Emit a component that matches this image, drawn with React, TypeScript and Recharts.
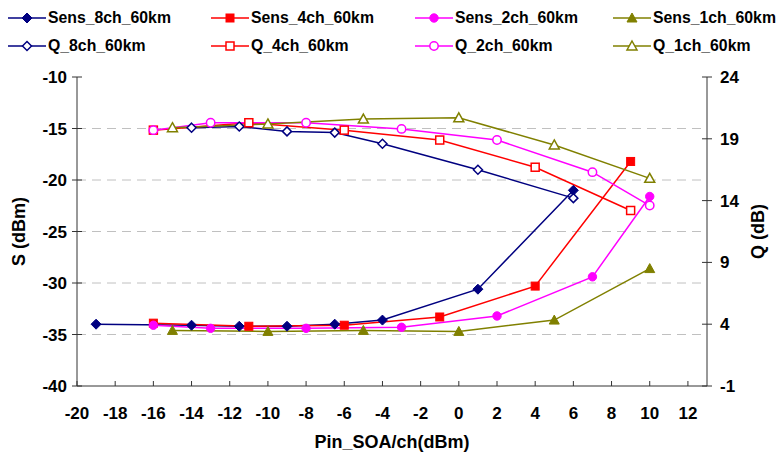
import React from 'react';
import { LineChart, Line, XAxis, YAxis, ReferenceLine } from 'recharts';

const sens8X = [-19, -14, -11.5, -9, -6.5, -4, 1, 6];
const sens8Y = [-34.0, -34.1, -34.2, -34.2, -34.0, -33.6, -30.6, -21.0];
const q8X = [-14, -11.5, -9, -6.5, -4, 1, 6];
const q8Y = [19.9, 20.0, 19.6, 19.5, 18.6, 16.5, 14.2];

const sens4X = [-16, -11, -6, -1, 4, 9];
const sens4Y = [-33.9, -34.2, -34.1, -33.3, -30.3, -18.2];
const q4X = [-16, -11, -6, -1, 4, 9];
const q4Y = [19.7, 20.3, 19.7, 18.9, 16.7, 13.2];

const sens2X = [-16, -13, -8, -3, 2, 7, 10];
const sens2Y = [-34.1, -34.4, -34.4, -34.3, -33.2, -29.4, -21.6];
const q2X = [-16, -13, -8, -3, 2, 7, 10];
const q2Y = [19.7, 20.3, 20.3, 19.8, 18.9, 16.3, 13.6];

const sens1X = [-15, -10, -5, 0, 5, 10];
const sens1Y = [-34.6, -34.7, -34.6, -34.7, -33.6, -28.6];
const q1X = [-15, -10, -5, 0, 5, 10];
const q1Y = [19.9, 20.2, 20.6, 20.7, 18.5, 15.8];

const xTicks = [-20, -18, -16, -14, -12, -10, -8, -6, -4, -2, 0, 2, 4, 6, 8, 10, 12];
const sTicks = [-40, -35, -30, -25, -20, -15, -10];
const qTicks = [-1, 4, 9, 14, 19, 24];
const gridValues = [-35, -30, -25, -20, -15];

const NAVY = '#000080';
const RED = '#FF0000';
const MAGENTA = '#FF00FF';
const OLIVE = '#808000';
const FONT = '"Liberation Sans", Arial, sans-serif';
const TICK_FS = 17;
const TITLE_FS = 18;
const LEGEND_FS = 15.8;

const zip = (xs: number[], ys: number[]) => xs.map((x, i) => ({ x, y: ys[i] }));

type Shape = 'diamond' | 'square' | 'circle' | 'triangle';

const marker = (shape: Shape, color: string, filled: boolean, cx: number, cy: number, key?: any) => {
  const fill = filled ? color : '#fff';
  const sw = filled ? 1 : 1.5;
  if (shape === 'diamond') {
    const h = filled ? 5 : 4.5;
    return <polygon key={key} points={`${cx},${cy - h} ${cx + h},${cy} ${cx},${cy + h} ${cx - h},${cy}`} fill={fill} stroke={color} strokeWidth={sw} />;
  }
  if (shape === 'square') {
    const h = 4;
    return <rect key={key} x={cx - h} y={cy - h} width={2 * h} height={2 * h} fill={fill} stroke={color} strokeWidth={sw} />;
  }
  if (shape === 'circle') {
    return <circle key={key} cx={cx} cy={cy} r={4.2} fill={fill} stroke={color} strokeWidth={sw} />;
  }
  return <polygon key={key} points={`${cx},${cy - 5} ${cx + 5},${cy + 4} ${cx - 5},${cy + 4}`} fill={fill} stroke={color} strokeWidth={sw} />;
};

const dotFn = (shape: Shape, color: string, filled: boolean) => (p: any) =>
  marker(shape, color, filled, p.cx, p.cy, p.index);

const series = [
  { name: 'Sens_8ch_60km', data: zip(sens8X, sens8Y), axis: 's', color: NAVY, shape: 'diamond' as Shape, filled: true },
  { name: 'Sens_4ch_60km', data: zip(sens4X, sens4Y), axis: 's', color: RED, shape: 'square' as Shape, filled: true },
  { name: 'Sens_2ch_60km', data: zip(sens2X, sens2Y), axis: 's', color: MAGENTA, shape: 'circle' as Shape, filled: true },
  { name: 'Sens_1ch_60km', data: zip(sens1X, sens1Y), axis: 's', color: OLIVE, shape: 'triangle' as Shape, filled: true },
  { name: 'Q_8ch_60km', data: zip(q8X, q8Y), axis: 'q', color: NAVY, shape: 'diamond' as Shape, filled: false },
  { name: 'Q_4ch_60km', data: zip(q4X, q4Y), axis: 'q', color: RED, shape: 'square' as Shape, filled: false },
  { name: 'Q_2ch_60km', data: zip(q2X, q2Y), axis: 'q', color: MAGENTA, shape: 'circle' as Shape, filled: false },
  { name: 'Q_1ch_60km', data: zip(q1X, q1Y), axis: 'q', color: OLIVE, shape: 'triangle' as Shape, filled: false },
];

const AXIS_COLOR = '#333';

const XTick = (p: any) => (
  <g>
    <line x1={p.x} y1={p.y} x2={p.x} y2={p.y - 5} stroke={AXIS_COLOR} />
    <text x={p.x} y={p.y + 33} textAnchor="middle" fontFamily={FONT} fontWeight="bold" fontSize={TICK_FS} fill="#000">
      {p.payload.value}
    </text>
  </g>
);

const LeftTick = (p: any) => (
  <g>
    <line x1={p.x - 5} y1={p.y} x2={p.x + 5} y2={p.y} stroke={AXIS_COLOR} />
    <text x={p.x - 10} y={p.y + 6} textAnchor="end" fontFamily={FONT} fontWeight="bold" fontSize={TICK_FS} fill="#000">
      {p.payload.value}
    </text>
  </g>
);

const RightTick = (p: any) => (
  <g>
    <line x1={p.x - 5} y1={p.y} x2={p.x + 5} y2={p.y} stroke={AXIS_COLOR} />
    <text x={p.x + 13} y={p.y + 6} textAnchor="start" fontFamily={FONT} fontWeight="bold" fontSize={TICK_FS} fill="#000">
      {p.payload.value}
    </text>
  </g>
);

const LegendBox = () => {
  const cols = [8, 211, 415, 613];
  const rows = [18, 46];
  return (
    <>
      {series.map((s, i) => {
        const col = cols[i % 4];
        const row = rows[Math.floor(i / 4)];
        return (
          <div key={s.name} style={{ position: 'absolute', left: col, top: row - 12, height: 24, display: 'flex', alignItems: 'center' }}>
            <svg width={40} height={24} style={{ display: 'block' }}>
              <line x1={0} y1={12} x2={38} y2={12} stroke={s.color} strokeWidth={1.5} />
              {marker(s.shape, s.color, s.filled, 19, 12)}
            </svg>
            <span style={{ fontFamily: FONT, fontWeight: 'bold', fontSize: LEGEND_FS, color: '#000', whiteSpace: 'nowrap' }}>{s.name}</span>
          </div>
        );
      })}
    </>
  );
};

export default function App() {
  return (
    <div style={{ position: 'absolute', left: 0, top: 0, width: 780, height: 454, background: '#fff' }}>
      <LineChart width={780} height={454} margin={{ top: 77, right: 13, bottom: 38, left: 17 }}>
        <XAxis
          dataKey="x"
          type="number"
          domain={[-20, 13]}
          ticks={xTicks}
          interval={0}
          allowDataOverflow
          height={30}
          tickSize={0}
          tickMargin={0}
          tickLine={false}
          stroke={AXIS_COLOR}
          tick={<XTick />}
          label={{
            value: 'Pin_SOA/ch(dBm)',
            content: (p: any) => (
              <text x={p.viewBox.x + p.viewBox.width / 2} y={p.viewBox.y + 62} textAnchor="middle" fontFamily={FONT} fontWeight="bold" fontSize={TITLE_FS} fill="#000">
                Pin_SOA/ch(dBm)
              </text>
            ),
          }}
        />
        <YAxis
          yAxisId="s"
          orientation="left"
          type="number"
          domain={[-40, -10]}
          ticks={sTicks}
          interval={0}
          width={60}
          tickSize={0}
          tickMargin={0}
          tickLine={false}
          stroke={AXIS_COLOR}
          tick={<LeftTick />}
          label={{
            value: 'S (dBm)',
            content: (p: any) => {
              const cx = p.viewBox.x + 2;
              const cy = p.viewBox.y + p.viewBox.height / 2;
              return (
                <text x={cx} y={cy} transform={`rotate(-90 ${cx} ${cy})`} textAnchor="middle" dominantBaseline="central" fontFamily={FONT} fontWeight="bold" fontSize={TITLE_FS} fill="#000">
                  S (dBm)
                </text>
              );
            },
          }}
        />
        <YAxis
          yAxisId="q"
          orientation="right"
          type="number"
          domain={[-1, 24]}
          ticks={qTicks}
          interval={0}
          width={60}
          tickSize={0}
          tickMargin={0}
          tickLine={false}
          stroke={AXIS_COLOR}
          tick={<RightTick />}
          label={{
            value: 'Q (dB)',
            content: (p: any) => {
              const cx = p.viewBox.x + 51;
              const cy = p.viewBox.y + p.viewBox.height / 2;
              return (
                <text x={cx} y={cy} transform={`rotate(-90 ${cx} ${cy})`} textAnchor="middle" dominantBaseline="central" fontFamily={FONT} fontWeight="bold" fontSize={TITLE_FS} fill="#000">
                  Q (dB)
                </text>
              );
            },
          }}
        />
        {gridValues.map((v) => (
          <ReferenceLine key={v} yAxisId="s" y={v} stroke="#c0c0c0" strokeDasharray="9 6" strokeWidth={1} />
        ))}
        {series.map((s) => (
          <Line
            key={s.name}
            data={s.data}
            dataKey="y"
            name={s.name}
            yAxisId={s.axis}
            type="linear"
            stroke={s.color}
            strokeWidth={1.5}
            dot={dotFn(s.shape, s.color, s.filled)}
            activeDot={false}
            isAnimationActive={false}
          />
        ))}
      </LineChart>
      <LegendBox />
    </div>
  );
}
